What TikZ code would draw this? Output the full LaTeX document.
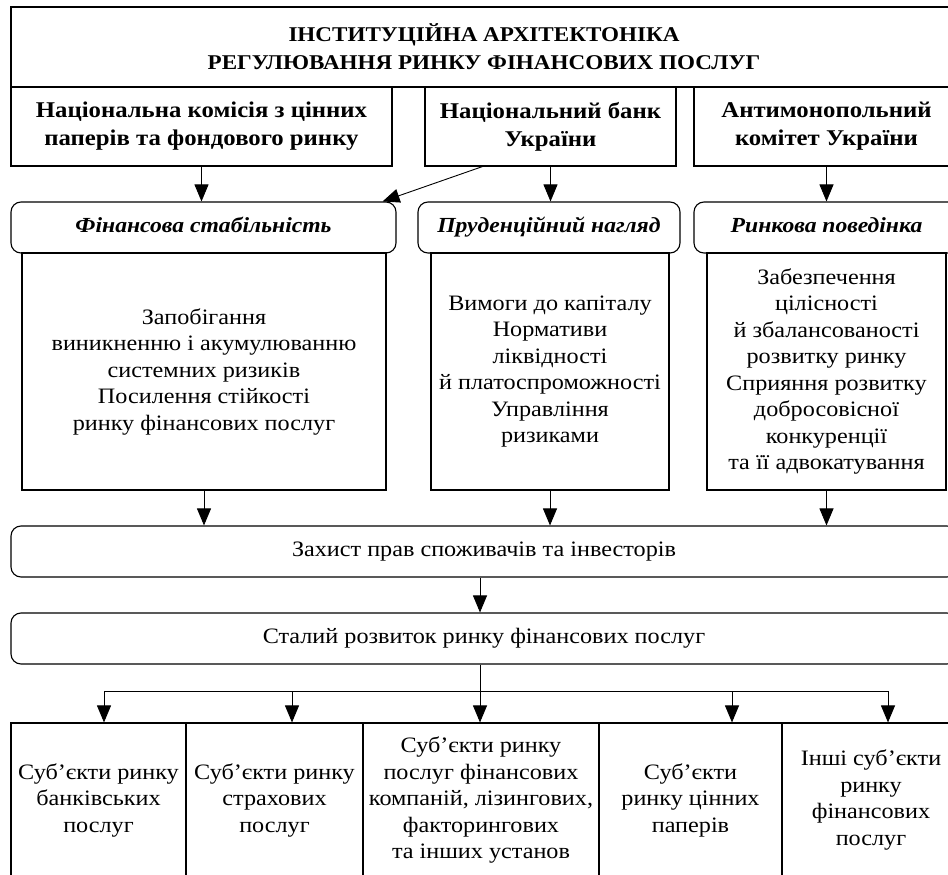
\documentclass[tikz,border=0pt]{standalone}
\usepackage{fontspec}
\setmainfont{Liberation Serif}[FakeStretch=1.1]
\usepackage{tikz}
\usetikzlibrary{arrows.meta,positioning,calc}

\newcommand{\boxfont}{\fontsize{22}{26.5}\selectfont}
\newcommand{\headfont}{\fontsize{22.5}{28}\selectfont\bfseries}
\newcommand{\titlefont}{\fontsize{21}{28}\selectfont\bfseries}

\begin{document}
\begin{tikzpicture}[
    x=1pt, y=-1pt,
    box/.style={rectangle, draw, line width=1.1pt, align=center, inner sep=0pt, font=\boxfont},
    organ/.style={box, font=\headfont},
    goal/.style={box, rounded corners=10pt, font=\fontsize{21.5}{26}\selectfont\bfseries\itshape,
        text height=15pt, text depth=5pt},
    wide/.style={box, rounded corners=10pt, text height=15pt, text depth=5pt},
    arrow/.style={-{Triangle[length=17pt, width=14pt]}, line width=0.9pt}
]
\useasboundingbox (0,0) rectangle (948,875);
\clip (0,0) rectangle (948,875);

% Title
\node[organ, font=\titlefont, minimum width=946, minimum height=80] (title) at (484,47)
    {ІНСТИТУЦІЙНА АРХІТЕКТОНІКА\\РЕГУЛЮВАННЯ РИНКУ ФІНАНСОВИХ ПОСЛУГ};

% Regulators
\node[organ, minimum width=381, minimum height=79] (nkc) at (201.5,126.5)
    {Національна комісія з цінних\\паперів та фондового ринку};
\node[organ, minimum width=251, minimum height=79] (nbu) at (550.5,126.5)
    {Національний банк\\України};
\node[organ, minimum width=265, minimum height=79] (amku) at (826.5,126.5)
    {Антимонопольний\\комітет України};

% Goals
\node[goal, minimum width=385, minimum height=51] (stab) at (203.5,227.5) {Фінансова стабільність};
\node[goal, minimum width=262, minimum height=51] (prud) at (549,227.5) {Пруденційний нагляд};
\node[goal, minimum width=265, minimum height=51] (market) at (826.5,227.5) {Ринкова поведінка};

% Tasks
\node[box, minimum width=364, minimum height=237] (stabtask) at (204,371.5)
    {Запобігання\\виникненню і акумулюванню\\системних ризиків\\Посилення стійкості\\ринку фінансових послуг};
\node[box, minimum width=238, minimum height=237] (prudtask) at (550,371.5)
    {Вимоги до капіталу\\Нормативи\\ліквідності\\й платоспроможності\\Управління\\ризиками};
\node[box, minimum width=239, minimum height=237] (markettask) at (826.5,371.5)
    {Забезпечення\\цілісності\\й збалансованості\\розвитку ринку\\Сприяння розвитку\\добросовісної\\конкуренції\\та її адвокатування};

% Common results
\node[wide, minimum width=946, minimum height=51] (protect) at (484,551.5)
    {Захист прав споживачів та інвесторів};
\node[wide, minimum width=946, minimum height=51] (develop) at (484,638.5)
    {Сталий розвиток ринку фінансових послуг};

% Market participants
\node[box, minimum width=175, minimum height=154] (bank) at (98.5,800)
    {Суб’єкти ринку\\банківських\\послуг};
\node[box, minimum width=177, minimum height=154] (insur) at (274.5,800)
    {Суб’єкти ринку\\страхових\\послуг};
\node[box, minimum width=236, minimum height=154] (finco) at (481,800)
    {Суб’єкти ринку\\послуг фінансових\\компаній, лізингових,\\факторингових\\та інших установ};
\node[box, minimum width=183, minimum height=154] (secur) at (690.5,800)
    {Суб’єкти\\ринку цінних\\паперів};
\node[box, minimum width=178, minimum height=154] (other) at (871,800)
    {Інші суб’єкти\\ринку\\фінансових\\послуг};

% Arrows from regulators to goals
\draw[arrow] (nkc.south) -- (nkc.south |- stab.north);
\draw[arrow] (nbu.south) -- (nbu.south |- prud.north);
\draw[arrow] (amku.south) -- (amku.south |- market.north);
\draw[arrow] ([xshift=-68pt]nbu.south) -- ([xshift=-14pt]stab.north east);

% Arrows from tasks to protection
\draw[arrow] (stabtask.south) -- (stabtask.south |- protect.north);
\draw[arrow] (prudtask.south) -- (prudtask.south |- protect.north);
\draw[arrow] (markettask.south) -- (markettask.south |- protect.north);
\draw[arrow] ([xshift=-4pt]protect.south) -- ([xshift=-4pt]develop.north);

% Branching to participants
\coordinate (fork) at (480,691);
\draw[line width=0.9pt] ([xshift=-4pt]develop.south) -- (fork);
\foreach \x/\p in {104/bank, 292/insur, 480/finco, 732/secur, 888/other} {
    \coordinate (f\p) at (\x,691);
    \draw[arrow] (f\p) -- (f\p |- \p.north);
}
\draw[line width=0.9pt] (fbank) -- (fother);

\end{tikzpicture}
\end{document}
